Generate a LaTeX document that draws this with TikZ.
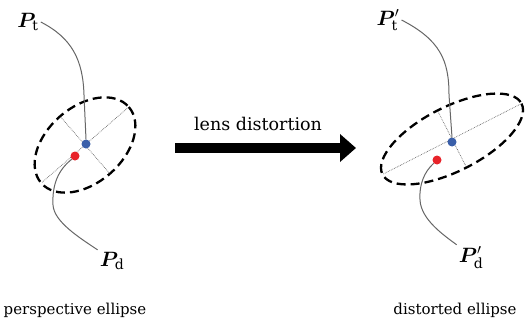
\documentclass[tikz,border=0pt]{standalone}
\usepackage{amsmath}
\usepackage{bm}
\usepackage{fontspec}
\setmainfont{DejaVu Serif}
\usetikzlibrary{arrows.meta}
\definecolor{dotblue}{HTML}{3A5FA9}
\definecolor{dotred}{HTML}{E8232A}

\begin{document}
\begin{tikzpicture}[
  x=1pt, y=-1pt,
  ell/.style={line width=2.3pt, dash pattern=on 9pt off 5pt},
  axisline/.style={black!60, line width=0.7pt, densely dotted},
  lead/.style={black!60, line width=1pt},
  spot/.style={circle, inner sep=0pt, minimum size=9pt},
  lbl/.style={inner sep=2pt, font=\fontsize{20}{22}\selectfont},
  caption/.style={font=\fontsize{15}{18}\selectfont},
  bigarrow/.style={line width=10pt, -{Triangle[length=16pt, width=27pt]}},
]
\useasboundingbox (0,0) rectangle (526,324);

% ================= LEFT : PERSPECTIVE ELLIPSE =================
\begin{scope}[shift={(85,145)}, rotate=41]
  \draw[ell] (0,0) ellipse (58 and 38);
  \draw[axisline] (-57,0) -- (57,0);
  \draw[axisline] (0,-37) -- (0,37);
\end{scope}
\node[spot, fill=dotblue] (ct) at (86,144) {};
\node[spot, fill=dotred] (cd) at (75,156) {};
\node[lbl] (pt) at (28,22) {$\bm{P}_{\mathrm{t}}$};
\node[lbl] (pd) at (112,261) {$\bm{P}_{\mathrm{d}}$};
\draw[lead] (pt.east) .. controls (72,38) and (83,60) .. (84,95) -- (ct.north);
\draw[lead] (cd.south west) .. controls (58,170) and (52,185) .. (53,205)
            .. controls (54,222) and (80,238) .. (pd.north west);
\node[caption] (cap1) at (75,310) {perspective ellipse};

% ================= ARROW =================
\coordinate (a0) at (175,148);
\coordinate (a1) at (356,148);
\draw[bigarrow] (a0) -- (a1);
\node[caption, font=\fontsize{17.5}{20}\selectfont] (lens) at (258,124) {lens distortion};

% ================= RIGHT : DISTORTED ELLIPSE =================
\begin{scope}[shift={(452,139)}, rotate=27]
  \draw[ell] (0,0) ellipse (78 and 32);
  \draw[axisline] (-77,0) -- (77,0);
  \draw[axisline] (0,-31) -- (0,31);
\end{scope}
\node[spot, fill=dotblue] (ct2) at (452,142) {};
\node[spot, fill=dotred] (cd2) at (437,160) {};
\node[lbl] (pt2) at (388,20) {$\bm{P}'_{\mathrm{t}}$};
\node[lbl] (pd2) at (471,258) {$\bm{P}'_{\mathrm{d}}$};
\draw[lead] (pt2.east) .. controls (440,40) and (449,60) .. (449,95) -- (ct2.north);
\draw[lead] (cd2.south west) .. controls (424,172) and (419,185) .. (420,200)
            .. controls (421,220) and (445,236) .. (pd2.north west);
\node[caption] (cap2) at (455,310) {distorted ellipse};
\end{tikzpicture}
\end{document}
